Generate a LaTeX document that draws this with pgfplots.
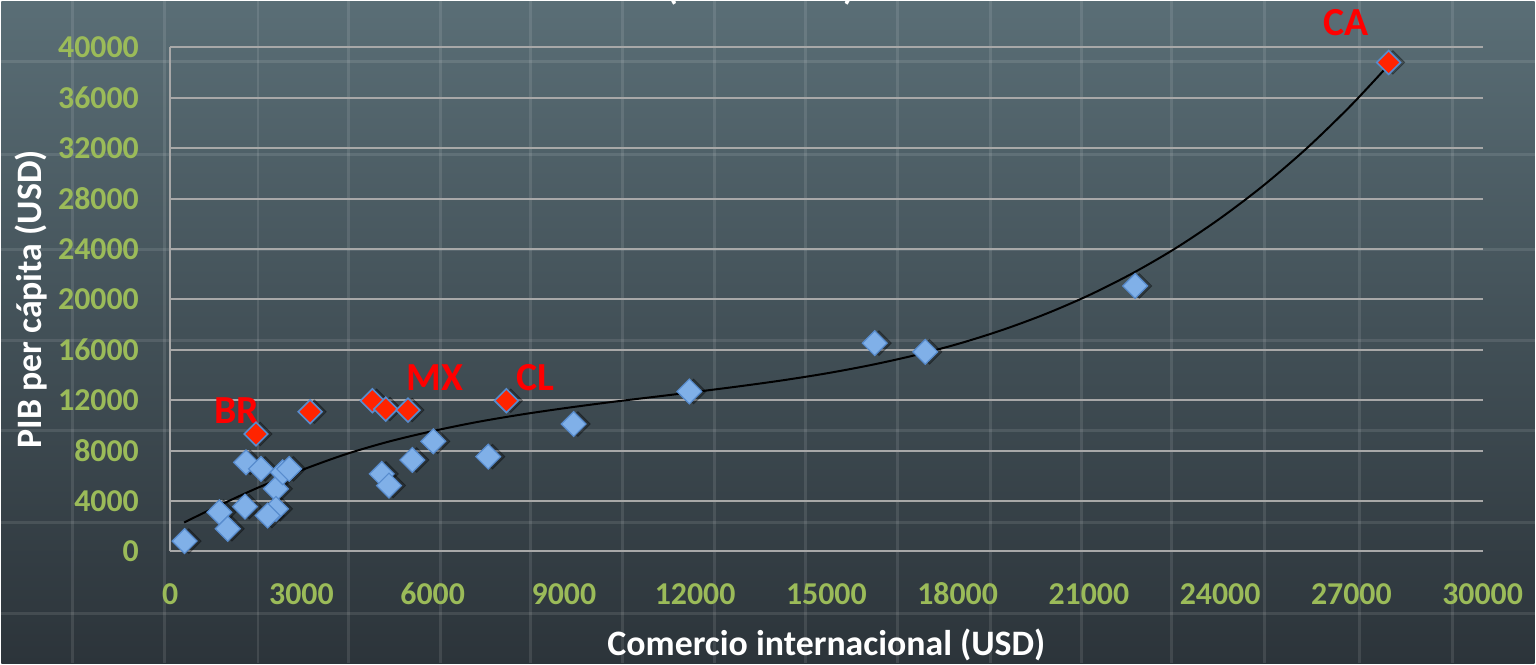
\documentclass[border=0pt]{standalone}
\usepackage{fontspec}
\setmainfont{Carlito}
\usepackage{pgfplots}
\usepackage{pgfplotstable}
\pgfplotsset{compat=1.18}

\definecolor{bgtop}{RGB}{90,110,118}
\definecolor{bgmid}{RGB}{66,80,87}
\definecolor{bgbot}{RGB}{44,52,58}
\definecolor{gridgray}{RGB}{168,168,168}
\definecolor{tickgreen}{RGB}{155,187,89}
\definecolor{markblue}{RGB}{128,176,232}
\definecolor{markedge}{RGB}{88,140,206}
\definecolor{markred}{RGB}{255,36,0}
\definecolor{labelred}{RGB}{255,0,0}

% paises (azul)
\pgfplotstableread{
x y
330 820
1125 3110
1316 1800
1711 3560
1734 7070
2076 6550
2418 4970
2418 3380
2229 2850
2571 6280
2721 6550
4836 6150
5002 5230
5536 7260
6015 8740
7270 7520
9223 10110
11868 12700
16104 16530
17261 15840
22058 21070
}\azules

% paises destacados (rojo)
\pgfplotstableread{
x y
1962 9320
3200 11090
4623 11960
4927 11300
5436 11220
7687 11960
27851 38810
}\rojos

% linea de tendencia
\pgfplotstableread{
x y
320 2300
1000 3450
2000 5050
3000 6450
4000 7700
5000 8720
6000 9550
7000 10260
8000 10850
9000 11360
10000 11820
11000 12240
12000 12660
13000 13100
14000 13580
15000 14130
16000 14780
17000 15550
18000 16460
19000 17550
20000 18830
21000 20330
22000 22080
23000 24100
24000 26430
25000 29070
26000 32060
27000 35430
27850 38600
}\tendencia

\begin{document}
\begin{tikzpicture}[x=1bp,y=1bp]
% fondo
\shade[top color=bgtop, bottom color=bgbot, middle color=bgmid] (-84.5,-56) rectangle (683.5,275.5);
\foreach \gx in {-49,-3,44,89.5,135.5,180.5,226.5,272.5,318.5,364.5,411,456.5,501.5,548,596,642.5}
  \draw[white, opacity=0.1, line width=1.5bp] (\gx,-56) -- (\gx,275.5);
\foreach \gy in {245.5,199,151.5,105.5,60.5,14.5,-31}
  \draw[white, opacity=0.1, line width=1.5bp] (-84.5,\gy) -- (683.5,\gy);
\useasboundingbox (-84.5,-56) rectangle (683.5,275.5);

\begin{axis}[
  at={(0,0)}, anchor=south west,
  scale only axis,
  width=657.5bp, height=252.5bp,
  xmin=0, xmax=30000, ymin=0, ymax=40000,
  xtick={0,3000,...,30000},
  ytick={0,4000,...,40000},
  scaled ticks=false,
  /pgf/number format/.cd, 1000 sep={}, assume math mode=true,
  /pgfplots/.cd,
  axis lines*=left,
  axis line style={draw=gridgray, line width=1bp},
  ymajorgrids,
  grid style={draw=gridgray, line width=1bp},
  major tick length=0pt,
  tick style={draw=none},
  ticklabel style={font=\bfseries\fontsize{16}{16}\selectfont, text=tickgreen, inner sep=0pt},
  yticklabel style={anchor=east, xshift=-15.5bp},
  xticklabel style={anchor=base, yshift=-26.5bp},
  xlabel={Comercio internacional (USD)},
  ylabel={PIB per cápita (USD)},
  label style={font=\bfseries\fontsize{18}{18}\selectfont, text=white},
  xlabel style={at={(axis description cs:0.5,-0.1861)}, anchor=center},
  ylabel style={at={(axis description cs:-0.1057,0.5)}, anchor=center, rotate=0},
  clip=false,
]
% sombras
\addplot[only marks, mark=square*, mark size=4.4bp,
  mark options={rotate=45, fill=black, draw=none, opacity=0.3, xshift=1.5bp, yshift=-1.5bp}]
  table[x=x, y=y] {\azules};
\addplot[only marks, mark=square*, mark size=4.2bp,
  mark options={rotate=45, fill=black, draw=none, opacity=0.3, xshift=1.5bp, yshift=-1.5bp}]
  table[x=x, y=y] {\rojos};
% puntos
\addplot[only marks, mark=square*, mark size=4.4bp,
  mark options={rotate=45, fill=markblue, draw=markedge, line width=0.6bp}]
  table[x=x, y=y] {\azules};
\addplot[only marks, mark=square*, mark size=4.2bp,
  mark options={rotate=45, fill=markred, draw=markedge, line width=0.8bp}]
  table[x=x, y=y] {\rojos};
% tendencia
\addplot[black, line width=1bp, smooth, no marks] table[x=x, y=y] {\tendencia};

% etiquetas
\begin{scope}[every node/.style={text=labelred, font=\bfseries\fontsize{20}{20}\selectfont, inner sep=0pt}]
\node at (axis cs:26872,41976) {CA};
\node at (axis cs:1517,11167) {BR};
\node at (axis cs:6045,13781) {MX};
\node at (axis cs:8349,13781) {CL};
\end{scope}
\node[text=white, font=\bfseries\fontsize{19}{19}\selectfont, anchor=base, inner sep=0pt]
  at (axis cs:13504,43800) {(2000-2010)};
\end{axis}
\end{tikzpicture}
\end{document}
